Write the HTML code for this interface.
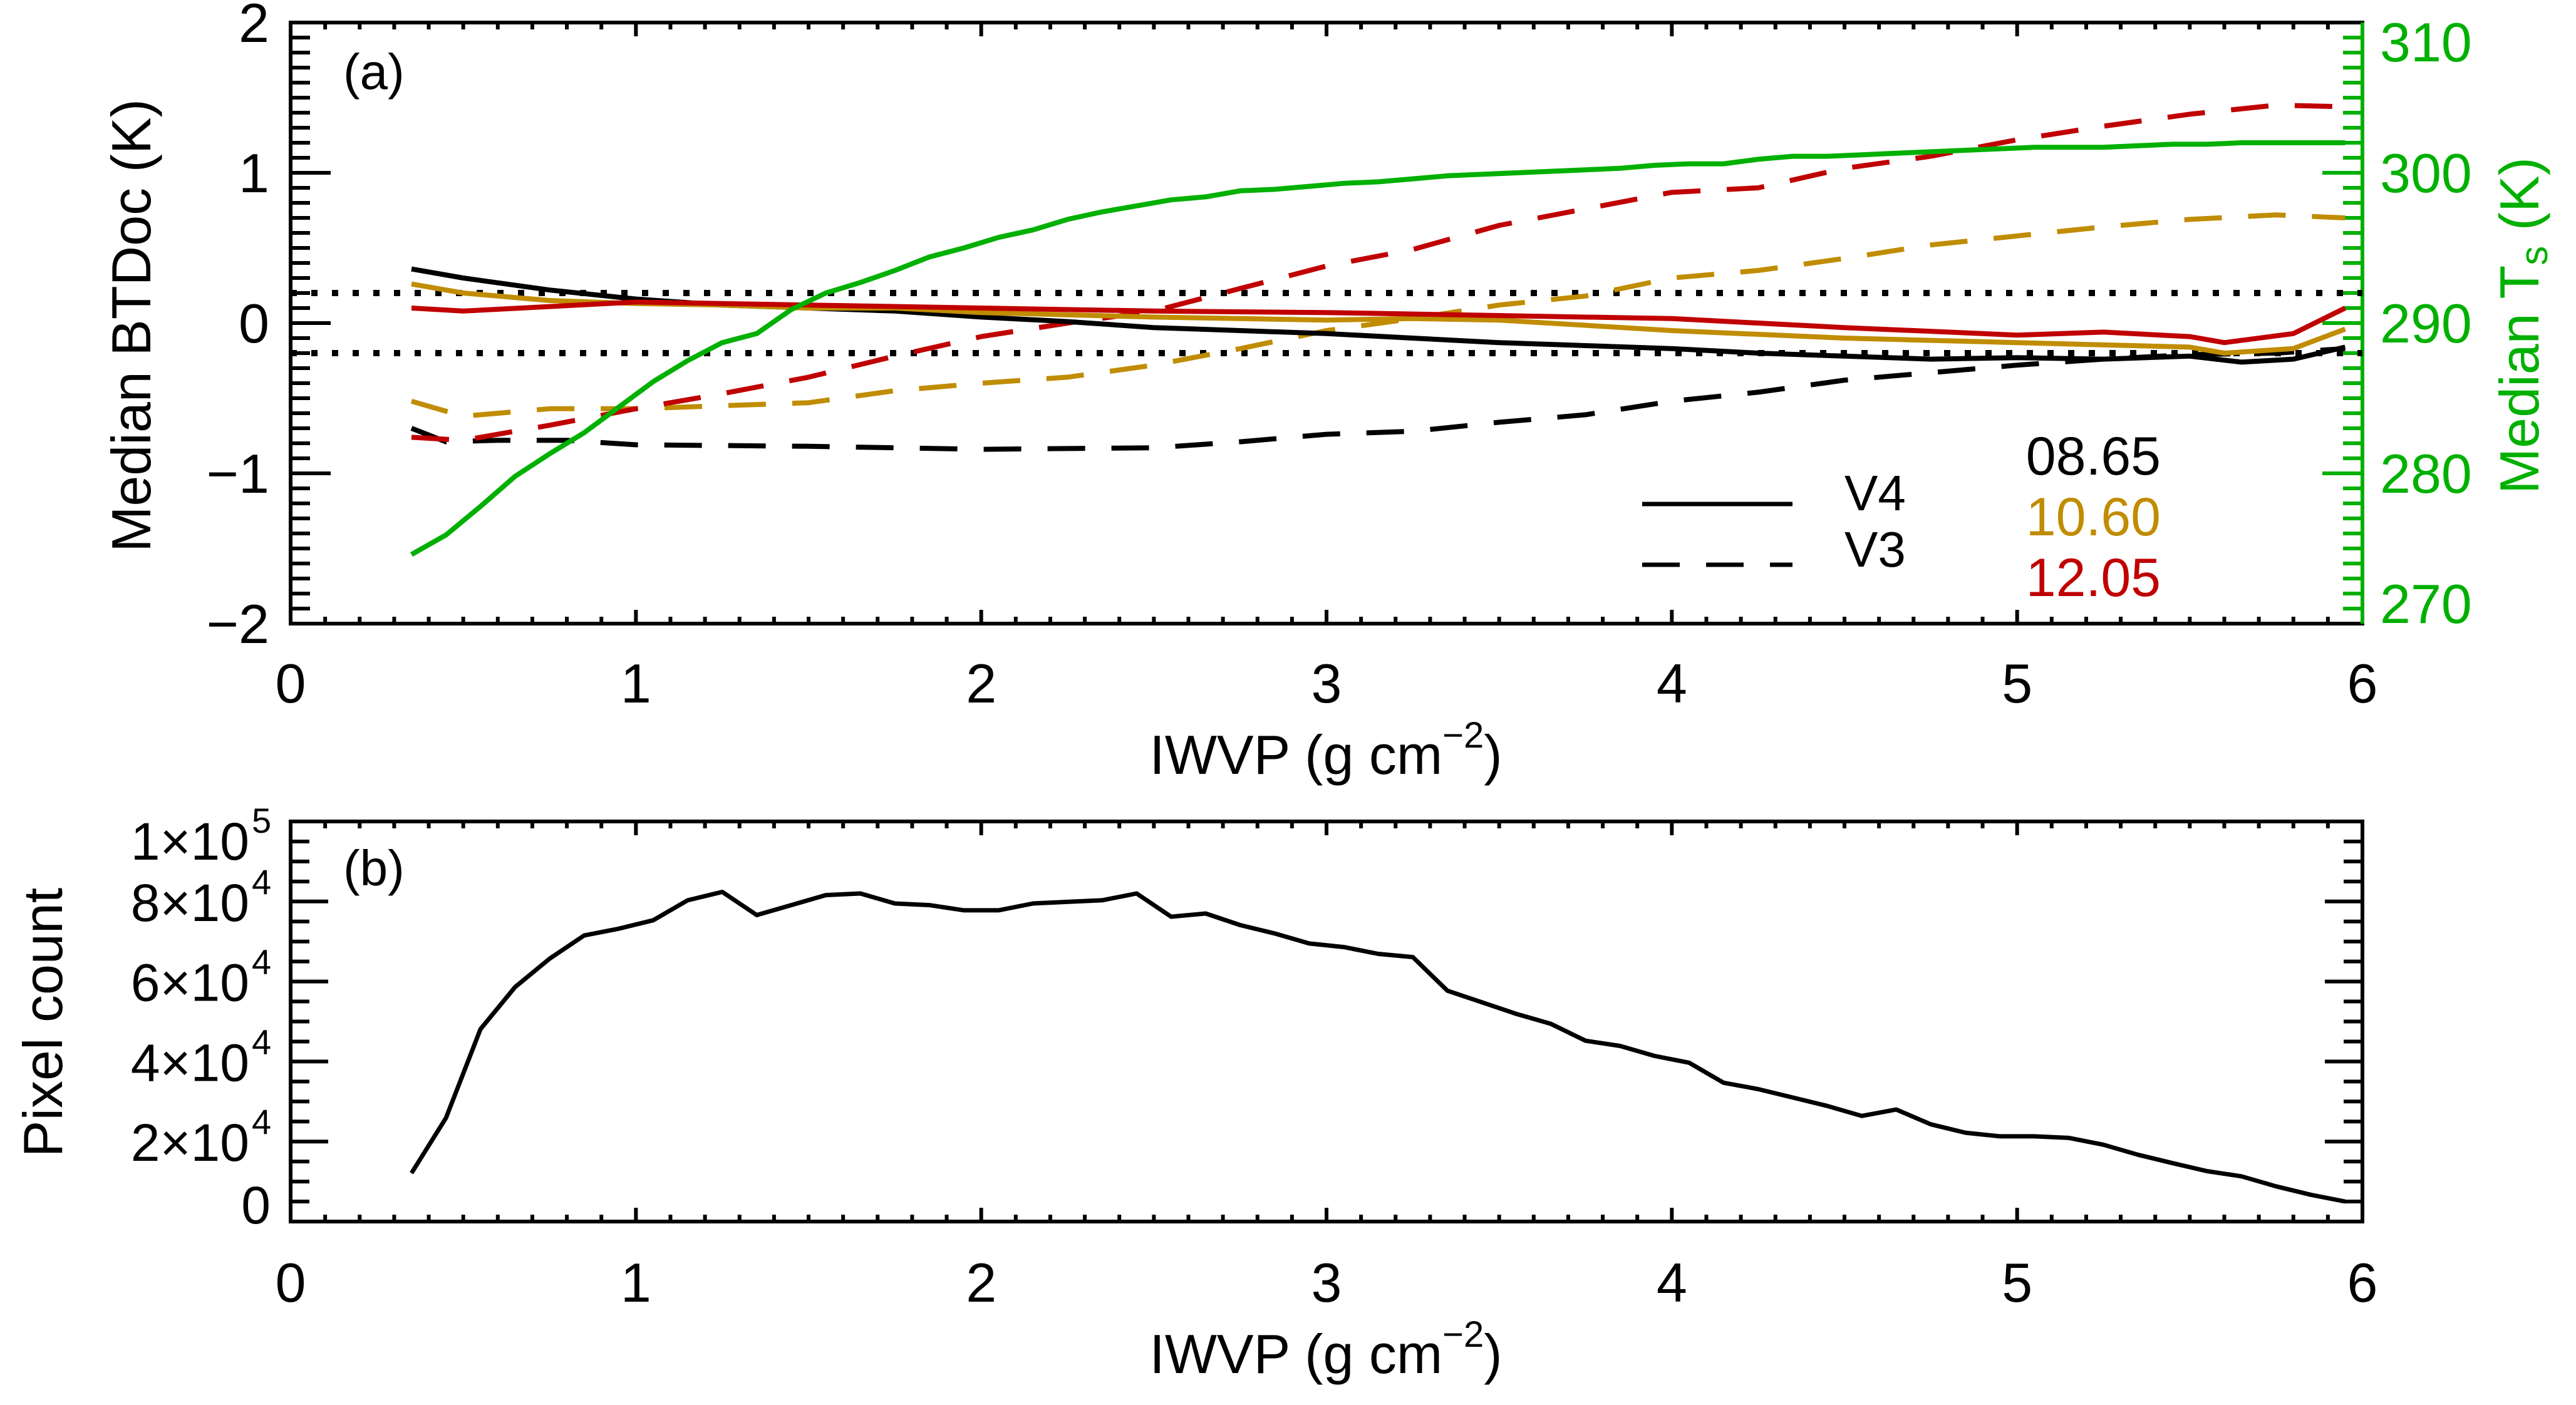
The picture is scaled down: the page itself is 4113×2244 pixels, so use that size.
<!DOCTYPE html>
<html><head><meta charset="utf-8"><style>
html,body{margin:0;padding:0;background:#fff;}
svg{display:block;font-family:"Liberation Sans",sans-serif;}
</style></head><body>
<svg id="chart" width="4113" height="2244" viewBox="0 0 4113 2244" xmlns="http://www.w3.org/2000/svg"></svg>
<script>
// ---------- data ----------
const tsX = [0.35,0.45,0.55,0.65,0.75,0.85,0.95,1.05,1.15,1.25,1.35,1.45,1.55,1.65,1.75,1.85,1.95,2.05,2.15,2.25,2.35,2.45,2.55,2.65,2.75,2.85,2.95,3.05,3.15,3.25,3.35,3.45,3.55,3.65,3.75,3.85,3.95,4.05,4.15,4.25,4.35,4.45,4.55,4.65,4.75,4.85,4.95,5.05,5.15,5.25,5.35,5.45,5.55,5.65,5.75,5.85,5.95];
const tsVals = [274.6,275.9,277.8,279.8,281.3,282.7,284.4,286.1,287.5,288.7,289.3,290.9,292.0,292.7,293.5,294.4,295.0,295.7,296.2,296.9,297.4,297.8,298.2,298.4,298.8,298.9,299.1,299.3,299.4,299.6,299.8,299.9,300.0,300.1,300.2,300.3,300.5,300.6,300.6,300.9,301.1,301.1,301.2,301.3,301.4,301.5,301.6,301.7,301.7,301.7,301.8,301.9,301.9,302.0,302.0,302.0,302.0];

const v3RedX = [0.35,0.5,0.75,1.0,1.25,1.5,1.75,2.0,2.25,2.5,2.75,3.0,3.25,3.5,3.75,4.0,4.25,4.5,4.75,5.0,5.25,5.5,5.75,5.95];
const v3RedVals = [-0.76,-0.78,-0.68,-0.57,-0.47,-0.36,-0.22,-0.09,0.0,0.08,0.23,0.38,0.49,0.65,0.76,0.87,0.90,1.03,1.11,1.22,1.31,1.39,1.45,1.44];
const v3GoldX = [0.35,0.5,0.75,1.0,1.25,1.5,1.75,2.0,2.25,2.5,2.75,3.0,3.25,3.5,3.75,4.0,4.25,4.5,4.75,5.0,5.25,5.5,5.75,5.95];
const v3GoldVals = [-0.52,-0.62,-0.57,-0.57,-0.55,-0.53,-0.45,-0.40,-0.36,-0.28,-0.17,-0.05,0.03,0.12,0.18,0.30,0.35,0.43,0.52,0.58,0.64,0.69,0.72,0.70];
const v3BlackX = [0.35,0.45,0.6,0.8,1.0,1.5,2.0,2.5,2.75,3.0,3.25,3.5,3.75,4.0,4.25,4.5,4.75,5.0,5.25,5.5,5.75,5.95];
const v3BlackVals = [-0.70,-0.79,-0.78,-0.78,-0.81,-0.82,-0.84,-0.83,-0.79,-0.74,-0.72,-0.66,-0.61,-0.52,-0.46,-0.38,-0.33,-0.28,-0.24,-0.21,-0.20,-0.17];

const v4BlackX = [0.35,0.5,0.75,1.0,1.25,1.5,1.75,2.0,2.25,2.5,2.75,3.0,3.25,3.5,3.75,4.0,4.25,4.5,4.75,5.0,5.25,5.5,5.65,5.8,5.95];
const v4BlackVals = [0.36,0.30,0.22,0.16,0.12,0.10,0.08,0.04,0.01,-0.03,-0.05,-0.07,-0.10,-0.13,-0.15,-0.17,-0.20,-0.22,-0.24,-0.23,-0.24,-0.22,-0.26,-0.24,-0.16];
const v4GoldX = [0.35,0.5,0.75,1.0,1.25,1.5,1.75,2.0,2.5,3.0,3.25,3.5,4.0,4.5,5.0,5.5,5.6,5.8,5.95];
const v4GoldVals = [0.26,0.20,0.15,0.13,0.12,0.10,0.10,0.07,0.04,0.02,0.03,0.02,-0.05,-0.10,-0.13,-0.16,-0.20,-0.17,-0.04];
const v4RedX = [0.35,0.5,0.75,1.0,1.5,2.0,2.5,3.0,3.5,4.0,4.5,5.0,5.25,5.5,5.6,5.8,5.95];
const v4RedVals = [0.10,0.08,0.11,0.14,0.12,0.10,0.08,0.07,0.05,0.03,-0.03,-0.08,-0.06,-0.09,-0.13,-0.07,0.10];

const countX = tsX;
const countVals = [1.21,2.59,4.81,5.86,6.57,7.15,7.32,7.53,8.03,8.24,7.66,7.91,8.16,8.20,7.95,7.91,7.78,7.78,7.95,7.99,8.03,8.20,7.62,7.70,7.41,7.20,6.95,6.86,6.69,6.61,5.77,5.48,5.19,4.94,4.52,4.39,4.14,3.97,3.47,3.31,3.10,2.89,2.64,2.80,2.43,2.22,2.13,2.13,2.09,1.92,1.67,1.46,1.26,1.13,0.88,0.67,0.50].map(v=>v*1e4);

const xTicks = [0,1,2,3,4,5,6];
const leftTicks = [-2,-1,0,1,2];
const rightTicks = [270,280,290,300,310];
const countTicks = [0,20000,40000,60000,80000,100000];
const countTickLabels = [["0",""],["2×10","4"],["4×10","4"],["6×10","4"],["8×10","4"],["1×10","5"]];
const thresholds = [0.2,-0.2];

// ---------- layout ----------
const NS = "http://www.w3.org/2000/svg";
const svg = document.getElementById('chart');
const X0 = 464, X1 = 3772;
const T_TOP = 36, T_BOT = 996;
const B_TOP = 1312, B_BOT = 1951;
const sx = v => X0 + (v/6)*(X1-X0);
const syL = v => T_BOT - (v+2)/4*(T_BOT-T_TOP);
const syR = v => T_BOT - (v-270)/40*(T_BOT-T_TOP);
const syB = v => B_BOT - v/1e5*(B_BOT-B_TOP);
const GREEN = "#00b000", GOLD = "#c08c00", RED = "#c00000";

function el(tag, attrs, parent){
  const e = document.createElementNS(NS, tag);
  for (const k in attrs) e.setAttribute(k, attrs[k]);
  (parent||svg).appendChild(e);
  return e;
}
function txt(s, x, y, attrs, parent){
  const t = el('text', Object.assign({x:x, y:y}, attrs||{}), parent);
  t.textContent = s;
  return t;
}
function poly(xs, ys, fx, fy, attrs){
  const pts = xs.map((x,i)=>fx(x).toFixed(1)+','+fy(ys[i]).toFixed(1)).join(' ');
  return el('polyline', Object.assign({points:pts, fill:'none', 'stroke-linejoin':'round'}, attrs));
}

// ---------- panel (a) ----------
const gA = el('g', {});



for (let i=0;i<=60;i++){
  const v=i/10, x=sx(v), major=(i%10===0), L=major?22:11;
  const t1 = el('line',{x1:x,y1:T_BOT,x2:x,y2:T_BOT-L,stroke:'#000','stroke-width':6},gA);
  
  
  const t2 = el('line',{x1:x,y1:T_TOP,x2:x,y2:T_TOP+L,stroke:'#000','stroke-width':6},gA);
  
  
}
for (let i=-20;i<=20;i++){
  const v=i/10, y=syL(v), major=(i%10===0), L=major?64:31;
  const t = el('line',{x1:X0,y1:y,x2:X0+L,y2:y,stroke:'#000','stroke-width':6},gA);
  
  
}
for (let v=270; v<=310; v++){
  const y=syR(v), major=(v%10===0), L=major?64:31;
  const t = el('line',{x1:X1,y1:y,x2:X1-L,y2:y,stroke:GREEN,'stroke-width':6},gA);
  
  
}
const frA = el('path',{d:`M${X0},${T_TOP} H${X1} M${X0},${T_BOT} H${X1} M${X0},${T_TOP} V${T_BOT}`,stroke:'#000','stroke-width':6,fill:'none','stroke-linecap':'square'},gA);


const rax = el('line',{x1:X1,y1:T_TOP,x2:X1,y2:T_BOT,stroke:GREEN,'stroke-width':6},gA);



xTicks.forEach(v=>{
  const t = txt(String(v), sx(v), 1122, {'font-size':88,'text-anchor':'middle'}, gA);
  
  
});
leftTicks.forEach(v=>{
  const t = txt(String(v).replace('-','−'), 430, syL(v)+31, {'font-size':88,'text-anchor':'end'}, gA);
  
  
});
rightTicks.forEach(v=>{
  let y = syR(v)+31;
  if (v===310) y = 98;
  if (v===270) y = 995;
  const t = txt(String(v), 3800, y, {'font-size':88,fill:GREEN}, gA);
  
  
});

const xtA = el('text', {x:2117, y:1236, 'font-size':88, 'text-anchor':'middle'}, gA);


xtA.innerHTML = 'IWVP (g cm<tspan font-size="58" dy="-42">−2</tspan><tspan dy="42">)</tspan>';

const ytL = txt('Median BTDoc (K)', 0, 0, {'font-size':88,'text-anchor':'middle',transform:'translate(240,520) rotate(-90)'}, gA);


const ytR = el('text', {'font-size':88,'text-anchor':'middle',fill:GREEN,transform:'translate(4053,520) rotate(-90)'}, gA);


ytR.innerHTML = 'Median T<tspan font-size="62" dy="14">s</tspan><tspan dy="-14"> (K)</tspan>';

const la = txt('(a)', 548, 142, {'font-size':80}, gA);



thresholds.forEach(v=>{
  const l = el('line',{x1:X0,y1:syL(v),x2:X1,y2:syL(v),stroke:'#000','stroke-width':10,'stroke-dasharray':'10 23'},gA);
  
  
});

const dashA = {'stroke-width':8,'stroke-dasharray':'60 42'};
let s;
s = poly(v3BlackX, v3BlackVals, sx, syL, Object.assign({stroke:'#000'},dashA));  
s = poly(v3GoldX, v3GoldVals, sx, syL, Object.assign({stroke:GOLD},dashA));  
s = poly(v3RedX, v3RedVals, sx, syL, Object.assign({stroke:RED},dashA));  
s = poly(v4BlackX, v4BlackVals, sx, syL, {stroke:'#000','stroke-width':8});  
s = poly(v4GoldX, v4GoldVals, sx, syL, {stroke:GOLD,'stroke-width':8});  
s = poly(v4RedX, v4RedVals, sx, syL, {stroke:RED,'stroke-width':8});  
s = poly(tsX, tsVals, sx, syR, {stroke:GREEN,'stroke-width':8});  

const lg = el('g',{},gA);


let e;
e = el('line',{x1:2622,y1:805,x2:2862,y2:805,stroke:'#000','stroke-width':7},lg);  
e = el('line',{x1:2622,y1:902,x2:2862,y2:902,stroke:'#000','stroke-width':7,'stroke-dasharray':'60 42'},lg);  
e = txt('V4', 2945, 815, {'font-size':80}, lg);  
e = txt('V3', 2945, 905, {'font-size':80}, lg);  
e = txt('08.65', 3450, 758, {'font-size':86,'text-anchor':'end'}, lg);  
e = txt('10.60', 3450, 855, {'font-size':86,'text-anchor':'end',fill:GOLD}, lg);  
e = txt('12.05', 3450, 952, {'font-size':86,'text-anchor':'end',fill:RED}, lg);  

// ---------- panel (b) ----------
const gB = el('g', {});


for (let i=0;i<=60;i++){
  const v=i/10, x=sx(v), major=(i%10===0), L=major?22:11;
  const t1 = el('line',{x1:x,y1:B_BOT,x2:x,y2:B_BOT-L,stroke:'#000','stroke-width':6},gB);
  
  
  const t2 = el('line',{x1:x,y1:B_TOP,x2:x,y2:B_TOP+L,stroke:'#000','stroke-width':6},gB);
  
  
}
for (let i=0;i<=20;i++){
  const v=i*5000, y=syB(v), major=(i%4===0), L=major?60:30;
  const t = el('line',{x1:X0,y1:y,x2:X0+L,y2:y,stroke:'#000','stroke-width':6},gB);
  
  
  const t2 = el('line',{x1:X1,y1:y,x2:X1-L,y2:y,stroke:'#000','stroke-width':6},gB);
  
  
}
const frB = el('rect',{x:X0,y:B_TOP,width:X1-X0,height:B_BOT-B_TOP,stroke:'#000','stroke-width':6,fill:'none'},gB);



xTicks.forEach(v=>{
  const t = txt(String(v), sx(v), 2079, {'font-size':88,'text-anchor':'middle'}, gB);
  
  
});
countTicks.forEach((v,i)=>{
  const lab = countTickLabels[i];
  let yc = syB(v);
  if (v===0) yc = 1923;
  if (v===100000) yc = 1342;
  const t = el('text',{x:lab[1]?398:432,y:yc+31,'font-size':84,'text-anchor':'end'},gB);
  t.textContent = lab[0];
  
  
  if (lab[1]){
    const sp = txt(lab[1], 402, yc-12, {'font-size':56}, gB);
    
    
  }
});
const xtB = el('text', {x:2117, y:2193, 'font-size':88, 'text-anchor':'middle'}, gB);


xtB.innerHTML = 'IWVP (g cm<tspan font-size="58" dy="-42">−2</tspan><tspan dy="42">)</tspan>';
const ytB = txt('Pixel count', 0, 0, {'font-size':88,'text-anchor':'middle',transform:'translate(99,1633) rotate(-90)'}, gB);


const lb = txt('(b)', 548, 1414, {'font-size':80}, gB);



s = poly(countX, countVals, sx, syB, {stroke:'#000','stroke-width':7});


</script>
</body></html>
